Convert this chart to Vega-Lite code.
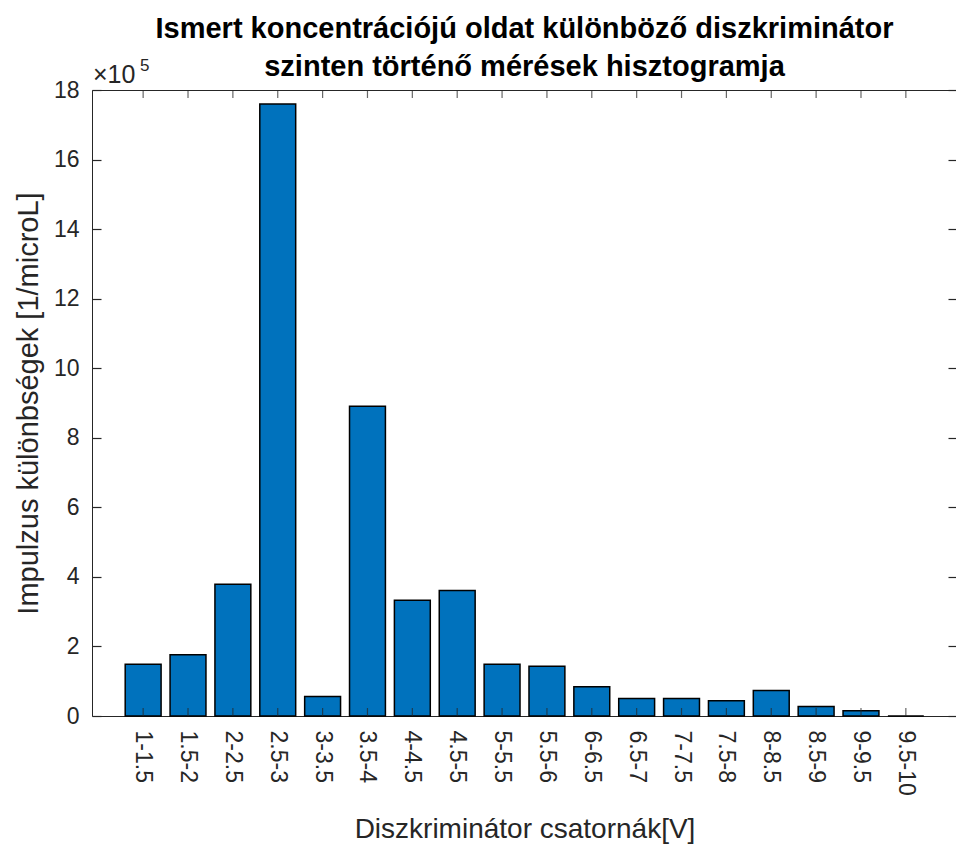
{
  "$schema": "https://vega.github.io/schema/vega-lite/v6.json",
  "width": 865,
  "height": 626,
  "autosize": "none",
  "padding": {"left": 92, "top": 90, "right": 0, "bottom": 128},
  "background": "white",
  "config": {
    "view": {"stroke": null},
    "font": "Liberation Sans",
    "axis": {
      "domainColor": "#262626",
      "tickColor": "#262626",
      "labelColor": "#262626",
      "titleColor": "#262626",
      "labelFont": "Liberation Sans",
      "titleFont": "Liberation Sans",
      "titleFontWeight": "normal",
      "grid": false,
      "tickWidth": 1.2,
      "zindex": 1
    }
  },
  "title": {
    "text": ["Ismert koncentrációjú oldat különböző diszkriminátor", "szinten történő mérések hisztogramja"],
    "fontSize": 29,
    "fontWeight": "bold",
    "font": "Liberation Sans",
    "color": "#000000",
    "anchor": "middle",
    "frame": "group",
    "lineHeight": 38,
    "offset": 10,
    "dy": 35
  },
  "data": {
    "values": [
      {"csatorna": "1-1.5", "impulzus": 149000},
      {"csatorna": "1.5-2", "impulzus": 176000},
      {"csatorna": "2-2.5", "impulzus": 379000},
      {"csatorna": "2.5-3", "impulzus": 1760000},
      {"csatorna": "3-3.5", "impulzus": 56000},
      {"csatorna": "3.5-4", "impulzus": 891000},
      {"csatorna": "4-4.5", "impulzus": 333000},
      {"csatorna": "4.5-5", "impulzus": 361000},
      {"csatorna": "5-5.5", "impulzus": 149000},
      {"csatorna": "5.5-6", "impulzus": 143000},
      {"csatorna": "6-6.5", "impulzus": 84000},
      {"csatorna": "6.5-7", "impulzus": 50000},
      {"csatorna": "7-7.5", "impulzus": 50000},
      {"csatorna": "7.5-8", "impulzus": 44000},
      {"csatorna": "8-8.5", "impulzus": 73000},
      {"csatorna": "8.5-9", "impulzus": 27000},
      {"csatorna": "9-9.5", "impulzus": 15000},
      {"csatorna": "9.5-10", "impulzus": 0}
    ]
  },
  "layer": [
    {
      "mark": {"type": "bar", "fill": "#0072BD", "stroke": "#000000", "strokeWidth": 1.5},
      "encoding": {
        "x": {
          "field": "csatorna",
          "type": "nominal",
          "sort": null,
          "scale": {"paddingInner": 0.2, "paddingOuter": 0.74},
          "axis": {
            "orient": "bottom",
            "title": "Diszkriminátor csatornák[V]",
            "titleFontSize": 28,
            "titlePadding": 20,
            "labelAngle": 90,
            "labelFontSize": 23,
            "labelPadding": 14,
            "ticks": false,
            "domainWidth": 1
          }
        },
        "y": {
          "field": "impulzus",
          "type": "quantitative",
          "scale": {"domain": [0, 1800000], "nice": false},
          "axis": {
            "orient": "left",
            "title": "Impulzus különbségek [1/microL]",
            "titleFontSize": 29,
            "titlePadding": 10,
            "values": [0, 200000, 400000, 600000, 800000, 1000000, 1200000, 1400000, 1600000, 1800000],
            "labelExpr": "format(datum.value / 100000, 'd')",
            "labelFontSize": 23,
            "labelPadding": 22,
            "tickSize": -9,
            "domainWidth": 1
          }
        }
      }
    },
    {
      "mark": {"type": "bar", "opacity": 0},
      "encoding": {
        "x": {
          "field": "csatorna",
          "type": "nominal",
          "sort": null,
          "axis": {"orient": "top", "title": null, "labels": false, "ticks": false, "domainWidth": 1}
        },
        "y": {
          "field": "impulzus",
          "type": "quantitative",
          "axis": {
            "orient": "right",
            "title": null,
            "labels": false,
            "values": [0, 200000, 400000, 600000, 800000, 1000000, 1200000, 1400000, 1600000, 1800000],
            "tickSize": -9,
            "domainWidth": 1
          }
        }
      }
    },
    {
      "mark": {"type": "tick", "orient": "vertical", "size": 8, "thickness": 1.2, "color": "#262626", "yOffset": -4},
      "encoding": {
        "x": {"field": "csatorna", "type": "nominal", "sort": null, "axis": null},
        "y": {"datum": 0, "type": "quantitative", "axis": null}
      }
    },
    {
      "mark": {"type": "tick", "orient": "vertical", "size": 8, "thickness": 1.2, "color": "#262626", "yOffset": 4},
      "encoding": {
        "x": {"field": "csatorna", "type": "nominal", "sort": null, "axis": null},
        "y": {"datum": 1800000, "type": "quantitative", "axis": null}
      }
    },
    {
      "data": {"values": [{"szorzo": "×10", "kitevo": "5", "felso": 1800000}]},
      "layer": [
        {
          "mark": {"type": "text", "align": "left", "baseline": "alphabetic", "dx": 1, "dy": -7, "fontSize": 25, "color": "#262626", "font": "Liberation Sans"},
          "encoding": {
            "text": {"field": "szorzo"},
            "x": {"value": 0},
            "y": {"field": "felso", "type": "quantitative", "axis": null}
          }
        },
        {
          "mark": {"type": "text", "align": "left", "baseline": "alphabetic", "dx": 48, "dy": -19, "fontSize": 17, "color": "#262626", "font": "Liberation Sans"},
          "encoding": {
            "text": {"field": "kitevo"},
            "x": {"value": 0},
            "y": {"field": "felso", "type": "quantitative", "axis": null}
          }
        }
      ]
    }
  ],
  "resolve": {"axis": {"x": "independent", "y": "independent"}}
}
